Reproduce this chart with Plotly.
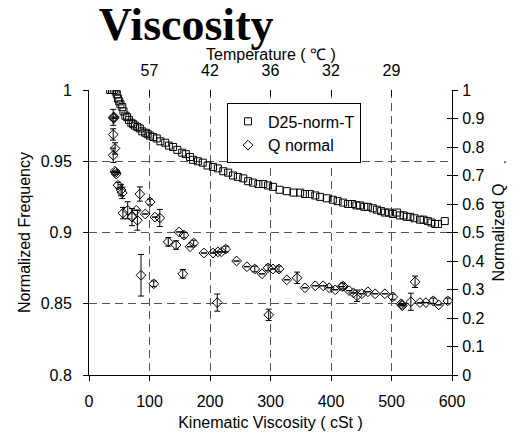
import plotly.graph_objects as go

# D25-norm-T (normalized frequency, left axis)
visc_f = [35, 38, 41, 44, 46, 48, 50, 52, 55, 57, 60, 63, 66, 70, 73, 76, 80, 84, 88, 93,
          97, 101, 106, 112, 118, 126, 132, 139, 146, 154, 160, 167, 172, 180, 188, 196,
          205, 213, 222, 230, 238, 246, 255, 263, 271, 280, 288, 296, 304, 315, 327, 338,
          349, 357, 365, 374, 382, 393, 403, 411, 420, 428, 435, 442, 448, 455, 461, 469,
          476, 483, 489, 496, 502, 509, 514, 520, 525, 531, 538, 547, 553, 560, 566, 572,
          577, 588]
freq = [1.0, 1.0, 1.0, 0.999, 0.997, 0.994, 0.992, 0.990, 0.988, 0.985, 0.982, 0.981, 0.979,
        0.977, 0.976, 0.975, 0.974, 0.973, 0.971, 0.970, 0.969, 0.968, 0.967, 0.966, 0.964,
        0.963, 0.961, 0.960, 0.958, 0.956, 0.955, 0.953, 0.951, 0.950, 0.949, 0.947, 0.946,
        0.945, 0.943, 0.942, 0.940, 0.939, 0.938, 0.936, 0.935, 0.934, 0.934, 0.933, 0.932,
        0.930, 0.929, 0.928, 0.928, 0.927, 0.927, 0.926, 0.925, 0.924, 0.923, 0.922, 0.921,
        0.920, 0.920, 0.919, 0.919, 0.918, 0.918, 0.917, 0.916, 0.915, 0.914, 0.914, 0.913,
        0.914, 0.912, 0.912, 0.911, 0.911, 0.910, 0.909, 0.909, 0.908, 0.907, 0.906, 0.906,
        0.908]

# Q normal (right axis)
visc_q = [40, 41, 42, 40, 43, 40, 44, 43, 45, 48, 53, 55, 84, 101, 56, 64, 71, 80, 78, 93,
          109, 117, 86, 107, 131, 144, 149, 157, 155, 167, 173, 190, 205, 213, 219, 226, 212,
          244, 261, 274, 286, 296, 304, 314, 297, 327, 344, 357, 374, 387, 397, 407, 418, 420,
          430, 437, 443, 451, 461, 473, 489, 502, 516, 517, 518, 532, 539, 547, 557, 569, 578,
          593]
q_norm = [0.904, 0.900, 0.905, 0.844, 0.795, 0.771, 0.711, 0.715, 0.705, 0.666, 0.649, 0.639,
          0.635, 0.607, 0.568, 0.578, 0.554, 0.543, 0.578, 0.565, 0.554, 0.551, 0.350, 0.320,
          0.467, 0.456, 0.502, 0.491, 0.355, 0.450, 0.463, 0.428, 0.428, 0.432, 0.432, 0.442,
          0.254, 0.400, 0.380, 0.372, 0.355, 0.376, 0.372, 0.372, 0.211, 0.334, 0.341, 0.306,
          0.313, 0.313, 0.306, 0.299, 0.310, 0.312, 0.296, 0.288, 0.278, 0.285, 0.292, 0.285,
          0.285, 0.274, 0.250, 0.246, 0.243, 0.257, 0.327, 0.254, 0.254, 0.260, 0.246, 0.260]
q_err = [0.028, 0, 0, 0.02, 0.02, 0.025, 0, 0, 0, 0.01, 0.02, 0.02, 0.025, 0.01, 0.02, 0.03,
         0.03, 0.035, 0, 0, 0, 0.03, 0.073, 0.01, 0.015, 0.015, 0, 0.01, 0.015, 0, 0.01, 0,
         0, 0, 0, 0.01, 0.03, 0, 0, 0.01, 0, 0.01, 0, 0.01, 0.02, 0, 0.02, 0, 0, 0, 0, 0, 0,
         0.01, 0, 0, 0.02, 0, 0, 0, 0, 0.01, 0, 0, 0, 0.03, 0.02, 0, 0, 0.01, 0, 0.01]

temp_pos = [100, 200, 300, 400, 500]
temp_labels = ["57", "42", "36", "32", "29"]

FONT = "Liberation Sans, Arial, sans-serif"
GRID = "#555555"
TICKF = dict(family=FONT, size=16, color="black")
TITLEF = dict(family=FONT, size=16, color="black")

# page body adds an 8px offset, so margins are given in figure coordinates
ML, MR, MT, MB = 81, 77, 81.5, 70.5
W, H = 521, 438
PW, PH = W - ML - MR, H - MT - MB

fig = go.Figure()
fig.add_trace(go.Scatter(
    x=visc_f, y=freq, mode="markers", name="D25-norm-T",
    marker=dict(symbol="square-open", size=7, color="black", line=dict(width=1)),
    xaxis="x", yaxis="y"))
fig.add_trace(go.Scatter(
    x=visc_q, y=q_norm, mode="markers", name="Q normal",
    marker=dict(symbol="diamond-open", size=7.5, color="black", line=dict(width=1)),
    error_y=dict(type="data", array=q_err, visible=True, color="black", thickness=1, width=3),
    xaxis="x", yaxis="y2"))

fig.update_layout(
    width=W, height=H,
    margin=dict(l=ML, r=MR, t=MT, b=MB, autoexpand=False),
    paper_bgcolor="white", plot_bgcolor="white",
    font=dict(family=FONT, size=16, color="black"),
    title=dict(text="<b>Viscosity</b>", x=0.342, xanchor="center", y=0.963, yanchor="middle",
               xref="container", yref="container",
               font=dict(family="Liberation Serif, Times New Roman, serif", size=46, color="black")),
    xaxis=dict(range=[0, 600], dtick=100, tick0=0, showline=True, linecolor="black", linewidth=1,
               ticks="outside", ticklen=5, tickcolor="black", ticklabelstandoff=7,
               tickfont=TICKF, automargin=False,
               showgrid=True, gridcolor=GRID, griddash="8px,5px", gridwidth=1,
               zeroline=False, mirror=False,
               title=dict(text="Kinematic Viscosity ( cSt )", standoff=7, font=TITLEF)),
    xaxis2=dict(range=[0, 600], overlaying="x", side="top", anchor="y",
                tickmode="array", tickvals=temp_pos, ticktext=temp_labels,
                ticks="inside", ticklen=6, tickcolor="black", ticklabelstandoff=10,
                tickfont=TICKF, automargin=False,
                showgrid=False, showline=False, zeroline=False),
    yaxis=dict(range=[0.8, 1.0], dtick=0.05, tick0=0.8, showline=True, linecolor="black",
               linewidth=1, ticks="outside", ticklen=5, tickcolor="black", ticklabelstandoff=8,
               tickfont=TICKF, automargin=False,
               showgrid=True, gridcolor=GRID, griddash="8px,5px", gridwidth=1, zeroline=False,
               title=dict(text="Normalized Frequency", standoff=6, font=TITLEF)),
    yaxis2=dict(range=[0, 1.0], dtick=0.1, tick0=0, overlaying="y", side="right", anchor="x",
                showline=True, linecolor="black", linewidth=1, ticks="outside", ticklen=5,
                tickcolor="black", ticklabelstandoff=1, tickfont=TICKF, automargin=False,
                showgrid=False, zeroline=False,
                title=dict(text="Normalized Q", standoff=9, font=TITLEF)),
    yaxis3=dict(range=[0, 1.0], dtick=0.1, tick0=0, overlaying="y", side="right", anchor="x",
                showline=False, ticks="inside", ticklen=5, tickcolor="black", automargin=False,
                showticklabels=False, showgrid=False, zeroline=False),
    legend=dict(x=(353 - ML) / PW, y=(H - MB - 95) / PH, xanchor="right", yanchor="top",
                bgcolor="white", bordercolor="black", borderwidth=1, itemwidth=30,
                font=TITLEF, tracegroupgap=0),
    showlegend=True,
    annotations=[
        dict(text="Temperature ( ℃ )", x=(263 - ML) / PW, y=(H - MB - 46) / PH,
             xref="paper", yref="paper", xanchor="center", yanchor="middle",
             showarrow=False, font=TITLEF),
        dict(text=".", x=(501 - ML) / PW, y=(H - MB - 140) / PH,
             xref="paper", yref="paper", showarrow=False,
             font=dict(size=14, family=FONT)),
    ],
)

# dummy traces to activate the inner right ticks and the top temperature axis
fig.add_trace(go.Scatter(x=[None], y=[None], yaxis="y3", xaxis="x", showlegend=False,
                         hoverinfo="skip"))
fig.add_trace(go.Scatter(x=[None], y=[None], xaxis="x2", yaxis="y", showlegend=False,
                         hoverinfo="skip"))

fig.write_html("out.html")
